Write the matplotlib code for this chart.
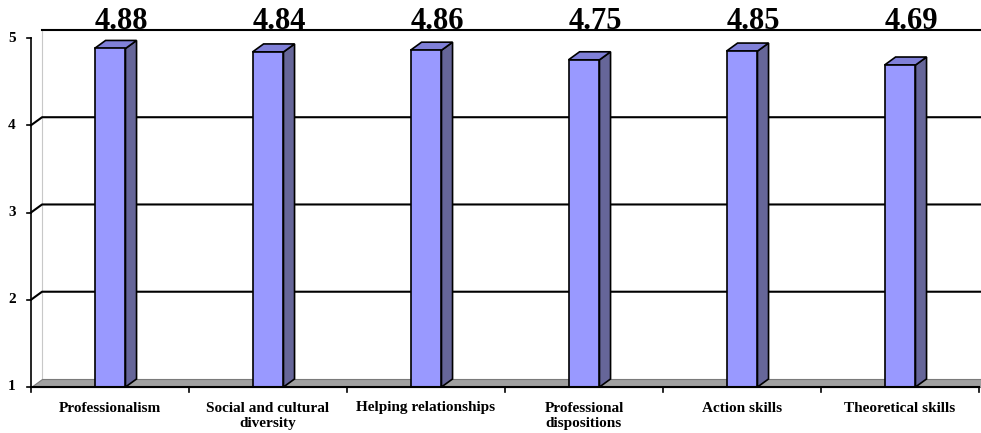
import numpy as np
import matplotlib.pyplot as plt

categories = ['Professionalism', 'Social and cultural\ndiversity', 'Helping relationships',
              'Professional\ndispositions', 'Action skills', 'Theoretical skills']
scores = [4.88, 4.84, 4.86, 4.75, 4.85, 4.69]
yticks = [1, 2, 3, 4, 5]

plt.rcParams['font.family'] = ['Liberation Serif', 'DejaVu Serif']
plt.rcParams['font.weight'] = 'bold'

fig = plt.figure(figsize=(9.81, 4.33), dpi=100)
ax = fig.add_axes([31 / 981, 46 / 433, 948 / 981, 349 / 433])
ax.set_xlim(0, 6)
ax.set_ylim(1, 5)
ax.axis('off')

# depth of the fake 3d look (in data units)
dx, dy = 0.07, 0.092
xr = 6.02
front = '#9999ff'
side = '#666699'
topc = '#8080d8'

# back wall left edge
ax.plot([dx, dx], [1 + dy, 5 + dy], color='#c8c8c8', lw=0.8, zorder=1, clip_on=False)

# gridlines
for v in yticks[1:-1]:
    ax.plot([0, dx, xr], [v, v + dy, v + dy], color='black', lw=1.5, zorder=1, clip_on=False)
ax.plot([dx, xr], [5 + dy, 5 + dy], color='black', lw=1.5, zorder=1, clip_on=False)

# floor
ax.fill([0, xr, xr, dx], [1, 1, 1 + dy, 1 + dy], facecolor='#a0a0a0', edgecolor='#7a7a7a',
        lw=0.8, zorder=2, clip_on=False)

# bars
x = np.arange(len(categories)) + 0.5
w = 0.196
ax.bar(x, np.array(scores) - 1, bottom=1, width=w, color=front, edgecolor='black', lw=1.2, zorder=4)
for xi, s in zip(x, scores):
    l, r = xi - w / 2, xi + w / 2
    ax.fill([r, r + dx, r + dx, r], [1, 1 + dy, s + dy, s], facecolor=side, edgecolor='black',
            lw=1.2, zorder=3)
    ax.fill([l, r, r + dx, l + dx], [s, s, s + dy, s + dy], facecolor=topc, edgecolor='black',
            lw=1.2, zorder=3)
    ax.text(xi + 0.07, 5 + dy + 0.012, f'{s:.2f}', ha='center', va='baseline', fontsize=22,
            fontweight='bold', zorder=6, clip_on=False)

# y axis
ax.plot([0, 0], [1, 5], color='black', lw=1.2, zorder=5, clip_on=False)
for v in yticks:
    ax.plot([-0.025, 0], [v, v], color='black', lw=1.2, clip_on=False)
    ax.text(-0.12, v, str(v), ha='center', va='center', fontsize=11, fontweight='bold')

# x axis
ax.plot([0, 6], [1, 1], color='black', lw=1.5, zorder=5, clip_on=False)
for b in range(len(categories) + 1):
    ax.plot([b, b], [1, 1 - 0.06], color='black', lw=1.2, clip_on=False)
for xi, lab in zip(x, categories):
    ax.text(xi, 1 - 14.5 / 87.25, lab, ha='center', va='top', fontsize=11,
            fontweight='bold', linespacing=1.22)

fig.savefig('out.png', dpi=100)
